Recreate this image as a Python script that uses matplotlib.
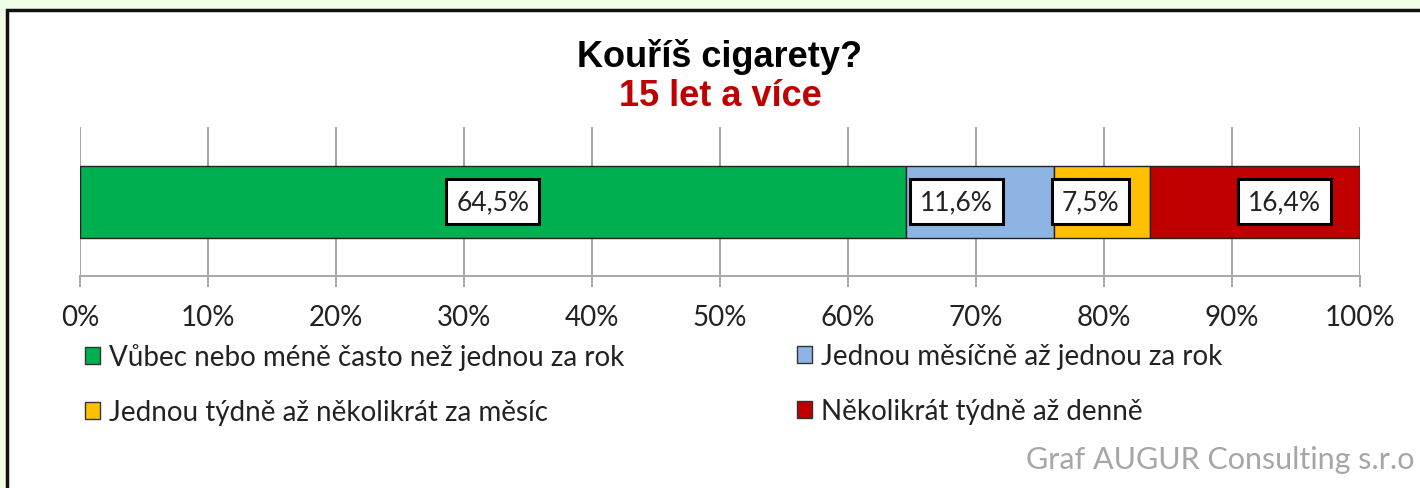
import matplotlib
matplotlib.use("Agg")
import matplotlib.pyplot as plt
from matplotlib.patches import Patch, Rectangle

# Data
categories = ["Vůbec nebo méně často než jednou za rok",
              "Jednou měsíčně až jednou za rok",
              "Jednou týdně až několikrát za měsíc",
              "Několikrát týdně až denně"]
values = [64.5, 11.6, 7.5, 16.4]
labels = ["64,5%", "11,6%", "7,5%", "16,4%"]
colors = ["#00B050", "#8EB4E3", "#FFC000", "#C00000"]
label_shift = [0.0, -1.8, -0.9, 2.3]  # label offset from segment centre, in %
tick_labels = [f"{v}%" for v in range(0, 101, 10)]

body_font = "Lato"

fig = plt.figure(figsize=(14.2, 4.89), dpi=100, facecolor="#F0FFE6")

# white panel with black frame
fig.patches.append(Rectangle((7 / 1420, -0.05), 1.05, 1 - 11 / 489 + 0.05,
                             transform=fig.transFigure, facecolor="white",
                             edgecolor="#111111", linewidth=2.5, zorder=-10))

ax = fig.add_axes([80 / 1420, 1 - 277 / 489, 1280 / 1420, 149 / 489])
ax.set_facecolor("none")

left = 0
for v, c, lab, sh in zip(values, colors, labels, label_shift):
    ax.barh(0, v, left=left, height=0.483, color=c, edgecolor="#222222",
            linewidth=1.0, zorder=3)
    ax.text(left + v / 2 + sh, 0, lab, ha="center", va="center",
            fontsize=19, family=body_font, color="#222222", zorder=4,
            bbox=dict(boxstyle="square,pad=0.38", facecolor="white",
                      edgecolor="black", linewidth=2.2))
    left += v

ax.set_xlim(0, 100)
ax.set_ylim(-0.497, 0.503)
ax.set_xticks(range(0, 101, 10))
ax.set_xticklabels(tick_labels, fontsize=20, family=body_font, color="#222222")
ax.set_yticks([])
ax.grid(axis="x", color="#A6A6A6", linewidth=1.4, zorder=1)
for s in ["top", "left", "right"]:
    ax.spines[s].set_visible(False)
ax.spines["bottom"].set_color("#A6A6A6")
ax.spines["bottom"].set_linewidth(1.4)
ax.tick_params(axis="x", length=8, width=1.4, color="#A6A6A6", pad=12)

fig.text(0.507, 1 - 57 / 489, "Kouříš cigarety?", ha="center", va="center",
         fontsize=26, fontweight="bold", family="Liberation Sans", color="black")
fig.text(0.507, 1 - 97 / 489, "15 let a více", ha="center", va="center",
         fontsize=26, fontweight="bold", family="Liberation Sans", color="#C00000")

handles = [Patch(facecolor=c, edgecolor="#333333", linewidth=1.0) for c in colors]
leg_kw = dict(frameon=False, handlelength=0.55, handleheight=0.55,
              handletextpad=0.3, labelspacing=1.05, borderaxespad=0,
              borderpad=0, prop={"family": body_font, "size": 20})
for col, x0 in enumerate([85 / 1420, 797 / 1420]):
    idx = [col, col + 2]
    leg = fig.legend([handles[i] for i in idx], [categories[i] for i in idx],
                     loc="upper left", bbox_to_anchor=(x0, 1 - 344 / 489), **leg_kw)
    for t in leg.get_texts():
        t.set_color("#222222")

fig.text(1415 / 1420, 1 - 460 / 489, "Graf AUGUR Consulting s.r.o", ha="right",
         va="center", fontsize=22, family=body_font, color="#A6A6A6")

fig.savefig("out.png", dpi=100, facecolor=fig.get_facecolor())
